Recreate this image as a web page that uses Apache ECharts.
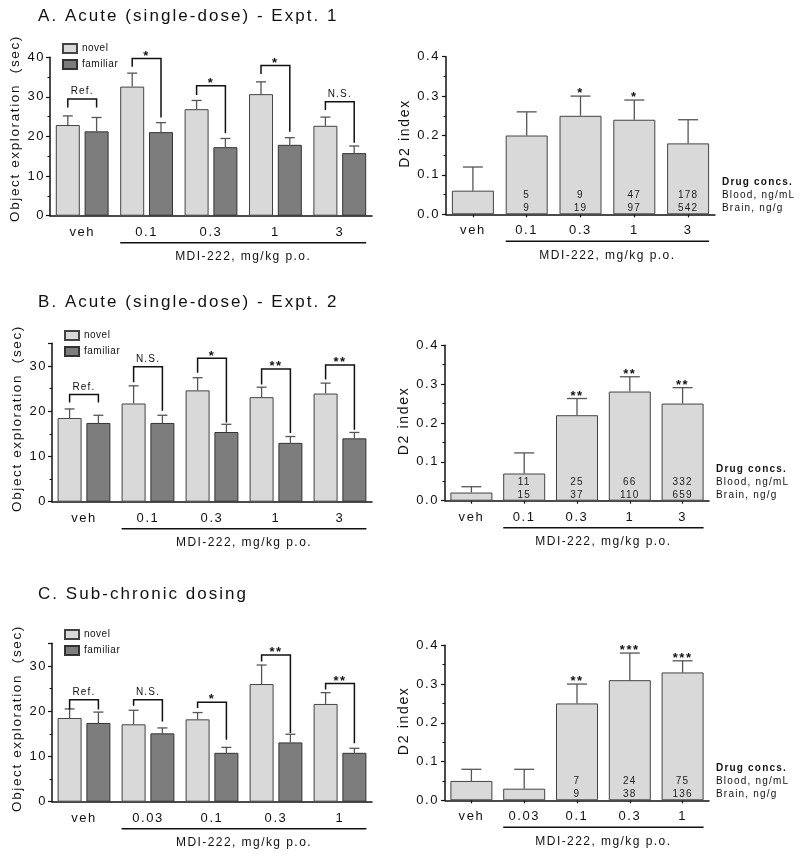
<!DOCTYPE html>
<html><head><meta charset="utf-8">
<script src="https://cdn.jsdelivr.net/npm/echarts@6/dist/echarts.min.js"></script>
<style>html,body{margin:0;padding:0;background:#fff}#c{width:800px;height:859px}</style>
</head><body><div id="c"></div>
<script>
// ---- letter spacing (the source figure uses widely tracked text) ----
(function(){
  const P = CanvasRenderingContext2D.prototype;
  function ls(ctx){
    const m = /(\d+(?:\.\d+)?)px/.exec(ctx.font);
    const s = m ? parseFloat(m[1]) : 12;
    const k = ctx.font.indexOf('Arial') >= 0 ? 0.05 : 0.12;
    return (s*k).toFixed(2)+'px';
  }
  const of = P.fillText;
  P.fillText = function(t,x,y,m){
    const prev = this.letterSpacing;
    try { this.letterSpacing = ls(this); } catch(e){}
    const r = (m===undefined) ? of.call(this,t,x,y) : of.call(this,t,x,y,m);
    try { this.letterSpacing = prev; } catch(e){}
    return r;
  };
  const om = P.measureText;
  P.measureText = function(t){
    const prev = this.letterSpacing;
    try { this.letterSpacing = ls(this); } catch(e){}
    const r = om.call(this,t);
    try { this.letterSpacing = prev; } catch(e){}
    return r;
  };
})();

// ================= DATA =================
const catsAB = ['veh','0.1','0.3','1','3'];
const catsC  = ['veh','0.03','0.1','0.3','1'];
const doseTitle = 'MDI-222, mg/kg p.o.';
const yNameLeft = 'Object exploration  (sec)';
const yNameRight = 'D2 index';
const concHead = ['Drug concs.', 'Blood, ng/mL', 'Brain, ng/g'];

// Panel A (Expt. 1)
const novelA    = [22.9, 32.6, 26.9, 30.7, 22.7];
const novelSemA = [2.3, 3.4, 2.2, 3.1, 2.2];
const famA      = [21.3, 21.1, 17.3, 17.9, 15.8];
const famSemA   = [3.5, 2.4, 2.2, 1.8, 1.8];
const brTopA    = [29.5, 39.7, 32.8, 37.9, 28.8];
const brLeftA   = [27.3, 37.6, 30.5, 35.8, 26.7];
const brRightA  = [27.3, 24.8, 20.8, 21.2, 18.4];
const brLabA    = ['Ref.', '*', '*', '*', 'N.S.'];
const d2A       = [0.06, 0.20, 0.25, 0.24, 0.18];
const d2SemA    = [0.06, 0.06, 0.05, 0.05, 0.06];
const d2StarA   = ['', '', '*', '*', ''];
const bloodA    = ['', '5', '9', '47', '178'];
const brainA    = ['', '9', '19', '97', '542'];

// Panel B (Expt. 2)
const novelB    = [18.5, 21.7, 24.6, 23.1, 23.9];
const novelSemB = [2.0, 3.9, 2.8, 2.2, 2.3];
const famB      = [17.4, 17.4, 15.4, 13.0, 14.0];
const famSemB   = [1.7, 1.7, 1.7, 1.4, 1.3];
const brTopB    = [23.7, 29.8, 31.7, 29.3, 30.2];
const brLeftB   = [21.9, 26.4, 28.5, 25.9, 27.0];
const brRightB  = [21.9, 20.1, 17.5, 15.2, 15.9];
const brLabB    = ['Ref.', 'N.S.', '*', '**', '**'];
const d2B       = [0.021, 0.070, 0.22, 0.281, 0.25];
const d2SemB    = [0.015, 0.053, 0.043, 0.038, 0.041];
const d2StarB   = ['', '', '**', '**', '**'];
const bloodB    = ['', '11', '25', '66', '332'];
const brainB    = ['', '15', '37', '110', '659'];

// Panel C (sub-chronic)
const novelC    = [18.5, 17.1, 18.2, 26.0, 21.6];
const novelSemC = [2.0, 3.1, 1.5, 4.2, 2.5];
const famC      = [17.4, 15.1, 10.8, 13.1, 10.8];
const famSemC   = [2.4, 1.2, 1.2, 1.8, 1.0];
const brTopC    = [22.5, 22.5, 22.0, 32.4, 26.1];
const brLeftC   = [20.4, 21.2, 20.7, 31.0, 24.8];
const brRightC  = [20.4, 17.7, 13.7, 15.2, 12.9];
const brLabC    = ['Ref.', 'N.S.', '*', '**', '**'];
const d2C       = [0.05, 0.03, 0.25, 0.31, 0.33];
const d2SemC    = [0.03, 0.05, 0.05, 0.07, 0.03];
const d2StarC   = ['', '', '**', '***', '***'];
const bloodC    = ['', '', '7', '24', '75'];
const brainC    = ['', '', '9', '38', '136'];

const titles = ['A. Acute (single-dose) - Expt. 1', 'B. Acute (single-dose) - Expt. 2', 'C. Sub-chronic dosing'];

// ================= STYLE / BUILD =================
const FONT = '"Liberation Sans", Helvetica, sans-serif';
const FONT_N = 'Arial, "Liberation Sans", sans-serif';
const INK = '#111';
const NOVEL_C = '#d9d9d9', FAM_C = '#7d7d7d';
const BW_L = 24, GAP_L = 0.2, OFF_L = (BW_L + BW_L*GAP_L)/2;
const BW_R = 42;

const grids=[], xAxes=[], yAxes=[], series=[], legends=[], titleComps=[];

function errRender(off, cap, stars){
  return function(params, api){
    const i = api.value(0), m = api.value(1), e = api.value(2);
    const p0 = api.coord([i, m]), p1 = api.coord([i, m+e]);
    const x = p0[0] + off;
    const ch = [
      {type:'line', shape:{x1:x,y1:p0[1],x2:x,y2:p1[1]}, style:{stroke:'#555', lineWidth:1.3}},
      {type:'line', shape:{x1:x-cap/2,y1:p1[1],x2:x+cap/2,y2:p1[1]}, style:{stroke:'#555', lineWidth:1.3}}
    ];
    if (stars && stars[params.dataIndex]) {
      ch.push({type:'text', style:{text:stars[params.dataIndex], x:x, y:p1[1]+5, align:'center', verticalAlign:'bottom',
        fontSize:13, fontWeight:'bold', fontFamily:FONT, fill:INK}});
    }
    return {type:'group', children:ch};
  };
}
function bracketRender(labels){
  return function(params, api){
    const i = api.value(0);
    const pT = api.coord([i, api.value(1)]);
    const yL = api.coord([i, api.value(2)])[1];
    const yR = api.coord([i, api.value(3)])[1];
    const xL = pT[0]-OFF_L, xR = pT[0]+OFF_L;
    const lab = labels[params.dataIndex];
    const isStar = lab.indexOf('*')===0;
    return {type:'group', children:[
      {type:'polyline', shape:{points:[[xL,yL],[xL,pT[1]],[xR,pT[1]],[xR,yR]]}, style:{stroke:INK, lineWidth:1.5, fill:null}},
      {type:'text', style:{text:lab, x:(xL+xR)/2, y: isStar ? pT[1]+5 : pT[1]-2, align:'center', verticalAlign:'bottom',
        fontSize: isStar ? 13 : 10, fontWeight: isStar ? 'bold' : 'normal', fontFamily:FONT, fill:INK}}
    ]};
  };
}
function doseRender(half){
  return function(params, api){
    const a = api.coord([api.value(0), 0]), b = api.coord([api.value(1), 0]);
    const x1 = a[0]-half, x2 = b[0]+half, y = a[1]+27;
    return {type:'group', children:[
      {type:'line', shape:{x1:x1,y1:y,x2:x2,y2:y}, style:{stroke:INK, lineWidth:1.5}},
      {type:'text', style:{text:doseTitle, x:(x1+x2)/2, y:y+14, align:'center', verticalAlign:'middle', fontSize:12, fontFamily:FONT, fill:INK}}
    ]};
  };
}
function concRender(blood, brain){
  return function(params, api){
    const i = api.value(0);
    const pb = api.coord([i, 0.048]), pr = api.coord([i, 0.015]);
    const ch = [
      {type:'text', style:{text:blood[i], x:pb[0], y:pb[1], align:'center', verticalAlign:'middle', fontSize:10, fontFamily:FONT, fill:'#222'}},
      {type:'text', style:{text:brain[i], x:pr[0], y:pr[1], align:'center', verticalAlign:'middle', fontSize:10, fontFamily:FONT, fill:'#222'}}
    ];
    if (params.dataIndex === 0) {
      const cs = params.coordSys;
      const xh = cs.x + cs.width + 7;
      const ph = api.coord([i, 0.082]);
      ch.push({type:'text', style:{text:concHead[0], x:xh, y:ph[1], align:'left', verticalAlign:'middle', fontSize:10, fontWeight:'bold', fontFamily:FONT, fill:INK}});
      ch.push({type:'text', style:{text:concHead[1], x:xh, y:pb[1], align:'left', verticalAlign:'middle', fontSize:10, fontFamily:FONT, fill:INK}});
      ch.push({type:'text', style:{text:concHead[2], x:xh, y:pr[1], align:'left', verticalAlign:'middle', fontSize:10, fontFamily:FONT, fill:INK}});
    }
    return {type:'group', children:ch};
  };
}

function leftPanel(g, cats, nov, novS, fam, famS, brT, brL, brR, brLab, yMax, legTop, nameShift){
  const gi = grids.length;
  grids.push(g);
  xAxes.push({type:'category', gridIndex:gi, data:cats,
    axisLine:{lineStyle:{color:INK, width:1.5}}, axisTick:{show:false},
    axisLabel:{color:INK, fontSize:13, margin:9, fontFamily:FONT}});
  yAxes.push({type:'value', gridIndex:gi, min:0, max:yMax, interval:10,
    axisLine:{show:true, lineStyle:{color:INK, width:1.5}},
    axisTick:{show:true, length:4, lineStyle:{color:INK, width:1.2}},
    minorTick:{show:true, splitNumber:2, length:2.5, lineStyle:{color:INK, width:1}},
    splitLine:{show:false},
    axisLabel:{color:INK, fontSize:13, margin:5, fontFamily:FONT, showMaxLabel: yMax%10===0},
    name:yNameLeft, nameLocation:'middle', nameGap:27,
    nameTextStyle:{fontSize:13.5, color:INK, fontFamily:FONT, padding:[0,0,0,nameShift]}});
  const base = {xAxisIndex:gi, yAxisIndex:gi};
  series.push(Object.assign({type:'bar', name:'novel', data:nov, barWidth:BW_L, barGap:(GAP_L*100)+'%',
    itemStyle:{color:NOVEL_C, borderColor:'#444', borderWidth:1}, z:2}, base));
  series.push(Object.assign({type:'bar', name:'familiar', data:fam, barWidth:BW_L, barGap:(GAP_L*100)+'%',
    itemStyle:{color:FAM_C, borderColor:'#333', borderWidth:1}, z:2}, base));
  series.push(Object.assign({type:'custom', silent:true, z:3, renderItem:errRender(-OFF_L, 10),
    data:nov.map((v,i)=>[i, v, novS[i]])}, base));
  series.push(Object.assign({type:'custom', silent:true, z:3, renderItem:errRender(OFF_L, 10),
    data:fam.map((v,i)=>[i, v, famS[i]])}, base));
  series.push(Object.assign({type:'custom', silent:true, z:4, renderItem:bracketRender(brLab),
    data:brT.map((v,i)=>[i, v, brL[i], brR[i]])}, base));
  series.push(Object.assign({type:'custom', silent:true, z:4, renderItem:doseRender(OFF_L + BW_L/2),
    data:[[1, cats.length-1]]}, base));
  legends.push({orient:'vertical', left:g.left+12, top:legTop, padding:0, itemWidth:14, itemHeight:9, itemGap:5,
    data:['novel','familiar'], icon:'rect', selectedMode:false,
    textStyle:{fontSize:10, color:INK, fontFamily:FONT_N}});
}
function rightPanel(g, cats, d2, sem, stars, blood, brain){
  const gi = grids.length;
  grids.push(g);
  xAxes.push({type:'category', gridIndex:gi, data:cats,
    axisLine:{lineStyle:{color:INK, width:1.5}},
    axisTick:{show:true, alignWithLabel:true, length:3, lineStyle:{color:INK, width:1.2}},
    axisLabel:{color:INK, fontSize:13, margin:9, fontFamily:FONT}});
  yAxes.push({type:'value', gridIndex:gi, min:0, max:0.4, interval:0.1,
    axisLine:{show:true, lineStyle:{color:INK, width:1.5}},
    axisTick:{show:true, length:4, lineStyle:{color:INK, width:1.2}},
    minorTick:{show:true, splitNumber:2, length:2.5, lineStyle:{color:INK, width:1}},
    splitLine:{show:false},
    axisLabel:{color:INK, fontSize:13, margin:6, fontFamily:FONT, formatter:v=>v.toFixed(1)},
    name:yNameRight, nameLocation:'middle', nameGap:31,
    nameTextStyle:{fontSize:14, color:INK, fontFamily:FONT, padding:[0,0,0,4]}});
  const base = {xAxisIndex:gi, yAxisIndex:gi};
  series.push(Object.assign({type:'bar', name:'D2', data:d2, barWidth:BW_R,
    itemStyle:{color:NOVEL_C, borderColor:'#444', borderWidth:1}, z:2}, base));
  series.push(Object.assign({type:'custom', silent:true, z:3, renderItem:errRender(0, 20, stars),
    data:d2.map((v,i)=>[i, v, sem[i]])}, base));
  series.push(Object.assign({type:'custom', silent:true, z:4, renderItem:concRender(blood, brain),
    data:cats.map((c,i)=>[i, 0])}, base));
  series.push(Object.assign({type:'custom', silent:true, z:4, renderItem:doseRender(BW_R/2),
    data:[[1, cats.length-1]]}, base));
}

leftPanel({left:50, top:57.3, width:322, height:158.4}, catsAB, novelA, novelSemA, famA, famSemA, brTopA, brLeftA, brRightA, brLabA, 40, 43, 16);
rightPanel({left:446, top:56.7, width:269, height:157.6}, catsAB, d2A, d2SemA, d2StarA, bloodA, brainA);
leftPanel({left:52, top:343.3, width:320, height:158.4}, catsAB, novelB, novelSemB, famB, famSemB, brTopB, brLeftB, brRightB, brLabB, 35, 330, 8);
rightPanel({left:445, top:345.3, width:264, height:155.4}, catsAB, d2B, d2SemB, d2StarB, bloodB, brainB);
leftPanel({left:52, top:643.3, width:320, height:158.4}, catsC, novelC, novelSemC, famC, famSemC, brTopC, brLeftC, brRightC, brLabC, 35, 629, 8);
rightPanel({left:445, top:645.3, width:264, height:155}, catsC, d2C, d2SemC, d2StarC, bloodC, brainC);

[7, 293, 585].forEach((t, k) => {
  titleComps.push({text:titles[k], left:38, top:t, padding:0,
    textStyle:{fontSize:17, fontWeight:'normal', color:INK, fontFamily:FONT}});
});

const chart = echarts.init(document.getElementById('c'), null, {renderer:'canvas'});
chart.setOption({
  animation:false,
  backgroundColor:'#fff',
  title:titleComps,
  legend:legends,
  grid:grids,
  xAxis:xAxes,
  yAxis:yAxes,
  series:series
});
</script>
</body></html>
